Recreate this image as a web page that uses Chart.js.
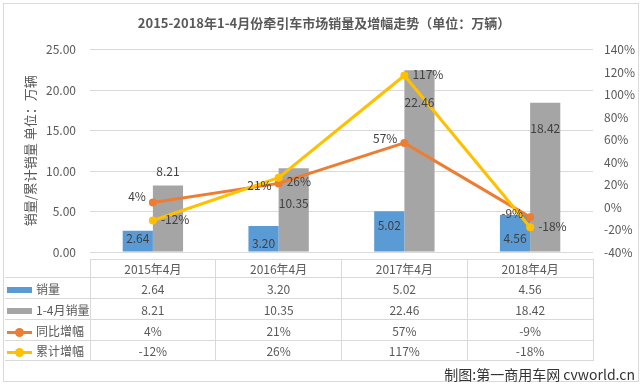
<!DOCTYPE html>
<html>
<head>
<meta charset="utf-8">
<script src="https://cdn.jsdelivr.net/npm/chart.js@4.4.0/dist/chart.umd.min.js"></script>
<style>
  body { margin: 0; background: #fff; }
  #wrap { position: relative; width: 643px; height: 384px; overflow: hidden;
    font-family: "Noto Sans CJK SC", "Noto Sans", sans-serif; color: #595959; }
  #frame { position: absolute; left: 3px; top: 3px; width: 636px; height: 379px;
    border: 1px solid #d9d9d9; box-sizing: border-box; }
  canvas { position: absolute; left: 0; top: 0; }
  #tbl { position: absolute; left: 5px; top: 259px; border-collapse: collapse;
    table-layout: fixed; font-size: 12px; }
  #tbl td { border: 1px solid #d9d9d9; padding: 0; text-align: center; white-space: nowrap; }
  #tbl td.lg { text-align: left; border-left: none; }
  #tbl td.corner { border-top: none; border-left: none; }
  .mk { display: inline-block; vertical-align: middle; margin: 0 4px 0 2px; position: relative; width: 25px; }
  .mk.bar { height: 6px; }
  .mk.ln { height: 3px; }
  .mk.ln i { position: absolute; left: 8px; top: -3px; width: 9px; height: 9px; border-radius: 50%; }
  #credit { position: absolute; right: 8px; top: 364px; font-size: 14px; color: #333; }
</style>
</head>
<body>
<div id="wrap">
  <div id="frame"></div>
  <canvas id="chart" width="643" height="384"></canvas>
  <table id="tbl"></table>
  <div id="credit">制图:第一商用车网 cvworld.cn</div>
</div>
<script>
// 数据
const months = ['2015年4月', '2016年4月', '2017年4月', '2018年4月'];
const monthSales = [2.64, 3.20, 5.02, 4.56];      // 销量
const ytdSales = [8.21, 10.35, 22.46, 18.42];     // 1-4月销量
const yoyGrowth = [4, 21, 57, -9];                // 同比增幅 %
const ytdGrowth = [-12, 26, 117, -18];            // 累计增幅 %

const blue = '#5B9BD5', gray = '#A5A5A5', orange = '#ED7D31', yellow = '#FFC000';

Chart.defaults.font.family = '"Noto Sans CJK SC", "Noto Sans", sans-serif';
Chart.defaults.color = '#595959';

// 标签位置 (按数据集 label)
const labelPos = {
  '销量': { anchor: 'base', dy: [-13, -8, -26, -13] },
  '1-4月销量': { anchor: 'top', dy: [-14, 35, 32, 26] },
  '同比增幅': { anchor: 'point', dx: -7, align: 'right', dy: [-6, 2, -4, -4] },
  '累计增幅': { anchor: 'point', dx: 8, align: 'left', dy: [-1, 4, -1, -1] }
};

function fmt(label, v) {
  if (label == '同比增幅' || label == '累计增幅') return v + '%';
  return v.toFixed(2);
}

const labelPlugin = {
  id: 'valueLabels',
  afterDatasetsDraw(chart) {
    const ctx = chart.ctx;
    ctx.save();
    ctx.font = '12px "Noto Sans CJK SC", "Noto Sans", sans-serif';
    ctx.fillStyle = '#404040';
    ctx.textBaseline = 'middle';
    chart.data.datasets.forEach((ds, i) => {
      const lp = labelPos[ds.label];
      const meta = chart.getDatasetMeta(i);
      meta.data.forEach((el, j) => {
        let x = el.x, y;
        if (lp.anchor == 'base') {
          ctx.textAlign = 'center';
          y = el.base + lp.dy[j];
        } else if (lp.anchor == 'top') {
          ctx.textAlign = 'center';
          y = el.y + lp.dy[j];
        } else {
          ctx.textAlign = lp.align;
          x = el.x + lp.dx;
          y = el.y + lp.dy[j];
        }
        ctx.fillText(fmt(ds.label, ds.data[j]), x, y);
      });
    });
    ctx.restore();
  }
};

const chart = new Chart(document.getElementById('chart').getContext('2d'), {
  data: {
    labels: months,
    datasets: [
      { type: 'line', label: '累计增幅', data: ytdGrowth, yAxisID: 'y1', order: 0,
        borderColor: yellow, backgroundColor: yellow, borderWidth: 3,
        pointRadius: 4, pointBorderWidth: 0 },
      { type: 'line', label: '同比增幅', data: yoyGrowth, yAxisID: 'y1', order: 1,
        borderColor: orange, backgroundColor: orange, borderWidth: 3,
        pointRadius: 4, pointBorderWidth: 0 },
      { type: 'bar', label: '销量', data: monthSales, yAxisID: 'y', order: 2,
        backgroundColor: blue, barPercentage: 1, categoryPercentage: 0.48 },
      { type: 'bar', label: '1-4月销量', data: ytdSales, yAxisID: 'y', order: 2,
        backgroundColor: gray, barPercentage: 1, categoryPercentage: 0.48 }
    ]
  },
  options: {
    responsive: false,
    animation: false,
    layout: { padding: { left: 5, right: 0, top: 0, bottom: 132 } },
    plugins: {
      legend: { display: false },
      tooltip: { enabled: false },
      title: {
        display: true,
        text: '2015-2018年1-4月份牵引车市场销量及增幅走势（单位：万辆）',
        color: '#595959',
        font: { size: 13, weight: 'bold' },
        padding: { top: 15, bottom: 19 }
      }
    },
    scales: {
      x: { display: false },
      y: {
        position: 'left', min: 0, max: 25,
        ticks: { stepSize: 5, padding: 14, font: { size: 12 },
          callback: v => v.toFixed(2) },
        grid: { color: '#d9d9d9', drawTicks: false },
        border: { display: false },
        title: { display: true, text: '销量/累计销量 单位：万辆', font: { size: 13 },
          padding: { top: 17, bottom: 0 } },
        afterFit(s) { s.width = 85; }
      },
      y1: {
        position: 'right', min: -40, max: 140,
        ticks: { stepSize: 20, padding: 11, font: { size: 12 },
          callback: v => v + '%' },
        grid: { display: false, drawTicks: false },
        border: { display: false },
        afterFit(s) { s.width = 50; }
      }
    }
  },
  plugins: [labelPlugin]
});

// 数据表
function buildTable() {
  const ca = chart.chartArea;
  const cw = (ca.right - ca.left) / months.length;
  const tbl = document.getElementById('tbl');
  let html = '<colgroup><col style="width:' + (ca.left - 5) + 'px">';
  months.forEach(() => { html += '<col style="width:' + cw + 'px">'; });
  html += '</colgroup>';
  html += '<tr style="height:17px"><td class="corner"></td>';
  months.forEach(m => { html += '<td>' + m + '</td>'; });
  html += '</tr>';
  const rows = [
    { name: '销量', data: monthSales, mk: '<span class="mk bar" style="background:' + blue + '"></span>', h: 21 },
    { name: '1-4月销量', data: ytdSales, mk: '<span class="mk bar" style="background:' + gray + '"></span>', h: 21 },
    { name: '同比增幅', data: yoyGrowth, mk: '<span class="mk ln" style="background:' + orange + '"><i style="background:' + orange + '"></i></span>', h: 21 },
    { name: '累计增幅', data: ytdGrowth, mk: '<span class="mk ln" style="background:' + yellow + '"><i style="background:' + yellow + '"></i></span>', h: 20 }
  ];
  rows.forEach(r => {
    html += '<tr style="height:' + r.h + 'px"><td class="lg">' + r.mk + r.name + '</td>';
    r.data.forEach(v => { html += '<td>' + fmt(r.name, v) + '</td>'; });
    html += '</tr>';
  });
  tbl.innerHTML = html;
  tbl.style.width = (ca.right - 5) + 'px';
}
buildTable();
</script>
</body>
</html>
